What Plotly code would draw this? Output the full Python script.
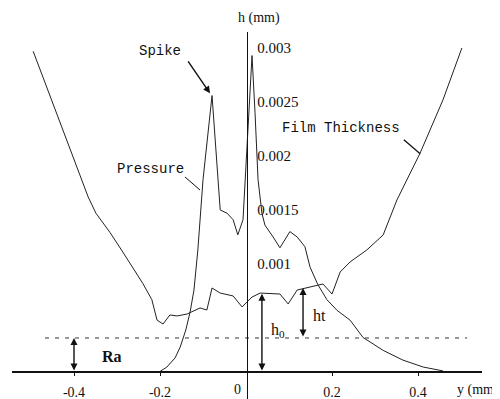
import plotly.graph_objects as go

# ---- data ----
film_y = [-0.495, -0.463, -0.433, -0.400, -0.367, -0.349, -0.333, -0.316, -0.288, -0.263,
          -0.240, -0.219, -0.212, -0.207, -0.193, -0.177, -0.160, -0.137, -0.107, -0.091,
          -0.079, -0.060, -0.030, -0.009, 0.002, 0.014, 0.033, 0.079, 0.098, 0.119,
          0.179, 0.188, 0.200, 0.219, 0.242, 0.281, 0.319, 0.351, 0.405, 0.458, 0.502]
film_h = [0.00297, 0.00263, 0.00231, 0.00196, 0.00162, 0.00147, 0.00138, 0.00129, 0.00112, 0.00097,
          0.00082, 0.00067, 0.000546, 0.000481, 0.000444, 0.000528, 0.000519, 0.000537, 0.000593, 0.000574,
          0.000778, 0.000731, 0.000704, 0.000602, 0.000648, 0.000694, 0.000731, 0.000722, 0.000630, 0.000759,
          0.000815, 0.000778, 0.000722, 0.000926, 0.001019, 0.00113, 0.001269, 0.001593, 0.002028, 0.002519,
          0.00300]

pressure_y = [-0.202, -0.184, -0.165, -0.153, -0.140, -0.130, -0.121, -0.112, -0.100, -0.079,
              -0.060, -0.044, -0.030, -0.019, -0.007, -0.002, 0.014, 0.021, 0.028, 0.037,
              0.044, 0.063, 0.079, 0.102, 0.119, 0.137, 0.149, 0.167, 0.188, 0.212,
              0.242, 0.272, 0.319, 0.365, 0.412, 0.458]
pressure_h = [0.0, 0.000046, 0.00013, 0.000231, 0.000389, 0.000556, 0.000759, 0.00113, 0.00178, 0.00256,
              0.00150, 0.00147, 0.00141, 0.00127, 0.00141, 0.00178, 0.00293, 0.00240, 0.00178, 0.00147,
              0.00136, 0.00125, 0.00115, 0.00130, 0.00125, 0.00116, 0.00097, 0.00081, 0.00067, 0.00057,
              0.00048, 0.00032, 0.00020, 0.00011, 0.000046, 0.00001]

x_tick_vals = [-0.4, -0.2, 0.2, 0.4]
x_tick_text = ["-0.4", "-0.2", "0.2", "0.4"]
h_tick_vals = [0.001, 0.0015, 0.002, 0.0025, 0.003]
h_tick_text = ["0.001", "0.0015", "0.002", "0.0025", "0.003"]

Ra = 0.000315          # roughness level (dashed line)
Ra_x = -0.4            # position of Ra arrow
h0_x, h0_top = 0.037, 0.000725
ht_x, ht_top = 0.1326, 0.000778
spike_head = (-0.0837, 0.00258)
spike_tail = (-0.137, 0.00289)

SERIF = "Liberation Serif"
MONO = "Liberation Mono"
INK = "#111111"

# the page body keeps an 8 px margin, so the figure is drawn 8 px smaller and offset
OFF = 8
W, H = 500 - OFF, 399 - OFF
def px_x(p):
    return (p - OFF) / W
def px_y(p):
    return (H - (p - OFF)) / H

fig = go.Figure()

fig.add_trace(go.Scatter(x=[-0.4674, 0.514], y=[Ra, Ra], mode="lines",
                         line=dict(color="#333", width=1, dash="4px,6px"),
                         hoverinfo="skip", showlegend=False))
fig.add_trace(go.Scatter(x=film_y, y=film_h, mode="lines", name="Film Thickness",
                         line=dict(color="#222", width=1), showlegend=False))
fig.add_trace(go.Scatter(x=pressure_y, y=pressure_h, mode="lines", name="Pressure",
                         line=dict(color="#222", width=1), showlegend=False))

ann = []
def txt(x, y, s, size=14, family=MONO, bold=False, xanchor="center", xref="x", yref="y"):
    ann.append(dict(x=x, y=y, xref=xref, yref=yref, text=("<b>%s</b>" % s) if bold else s,
                    showarrow=False, xanchor=xanchor, yanchor="middle",
                    font=dict(family=family, size=size, color=INK)))

def arrow(x, y0, y1, both=True):
    ann.append(dict(x=x, y=y1, ax=x, ay=y0, xref="x", yref="y", axref="x", ayref="y",
                    text="", showarrow=True, arrowhead=2, arrowsize=1, arrowwidth=1.4,
                    arrowside="end+start" if both else "end", arrowcolor=INK,
                    standoff=0, startstandoff=0, font=dict(size=12)))

txt(-0.2, 0.002972, "Spike")
ann.append(dict(x=spike_head[0], y=spike_head[1], ax=spike_tail[0], ay=spike_tail[1],
                xref="x", yref="y", axref="x", ayref="y", text="", showarrow=True,
                arrowhead=2, arrowsize=1, arrowwidth=1.4, arrowcolor=INK, standoff=0,
                font=dict(size=12)))
txt(-0.223, 0.00188, "Pressure")
txt(0.221, 0.00226, "Film Thickness")
txt(-0.312, 0.000139, "Ra", size=16, family=SERIF, bold=True)
txt(0.074, 0.00038, "h<sub>0</sub>", size=16, family=SERIF)
txt(0.172, 0.000519, "ht", size=16, family=SERIF)
txt(-0.019, -0.000165, "0", size=14, family=SERIF)
txt(px_x(236), px_y(17.5), "h (mm)", size=14, family=SERIF, xanchor="left", xref="paper", yref="paper")
txt(px_x(455), px_y(390), "y (mm)", size=14, family=SERIF, xanchor="left", xref="paper", yref="paper")

arrow(Ra_x, 0, Ra)
arrow(h0_x, 0, h0_top)
arrow(ht_x, Ra, ht_top)

shapes = [
    dict(type="line", xref="x", yref="y", x0=-0.142, y0=0.001806, x1=-0.107, y1=0.001685,
         line=dict(color=INK, width=1)),
    dict(type="line", xref="x", yref="y", x0=0.367, y0=0.00215, x1=0.405, y1=0.00202,
         line=dict(color=INK, width=1.3)),
]

fig.update_layout(
    width=W, height=H, margin=dict(l=0, r=0, t=0, b=0),
    paper_bgcolor="white", plot_bgcolor="white",
    annotations=ann, shapes=shapes,
    xaxis=dict(domain=[px_x(12), px_x(482)], range=[-0.5442, 0.5488],
               anchor="free", position=px_y(372),
               showline=True, linecolor=INK, linewidth=1.5,
               showgrid=False, zeroline=False,
               tickvals=x_tick_vals, ticktext=x_tick_text,
               ticks="outside", ticklen=3, tickcolor=INK, tickwidth=1,
               ticklabelstandoff=4,
               tickfont=dict(family=SERIF, size=14, color=INK)),
    yaxis=dict(domain=[0, px_y(32)], range=[-0.00025, 0.003148],
               anchor="free", position=px_x(247), side="right",
               showline=True, linecolor=INK, linewidth=1.3,
               showgrid=False, zeroline=False,
               tickvals=h_tick_vals, ticktext=h_tick_text,
               ticks="", ticklabelstandoff=6,
               tickfont=dict(family=SERIF, size=15, color=INK)),
)

fig.write_html("out.html")
